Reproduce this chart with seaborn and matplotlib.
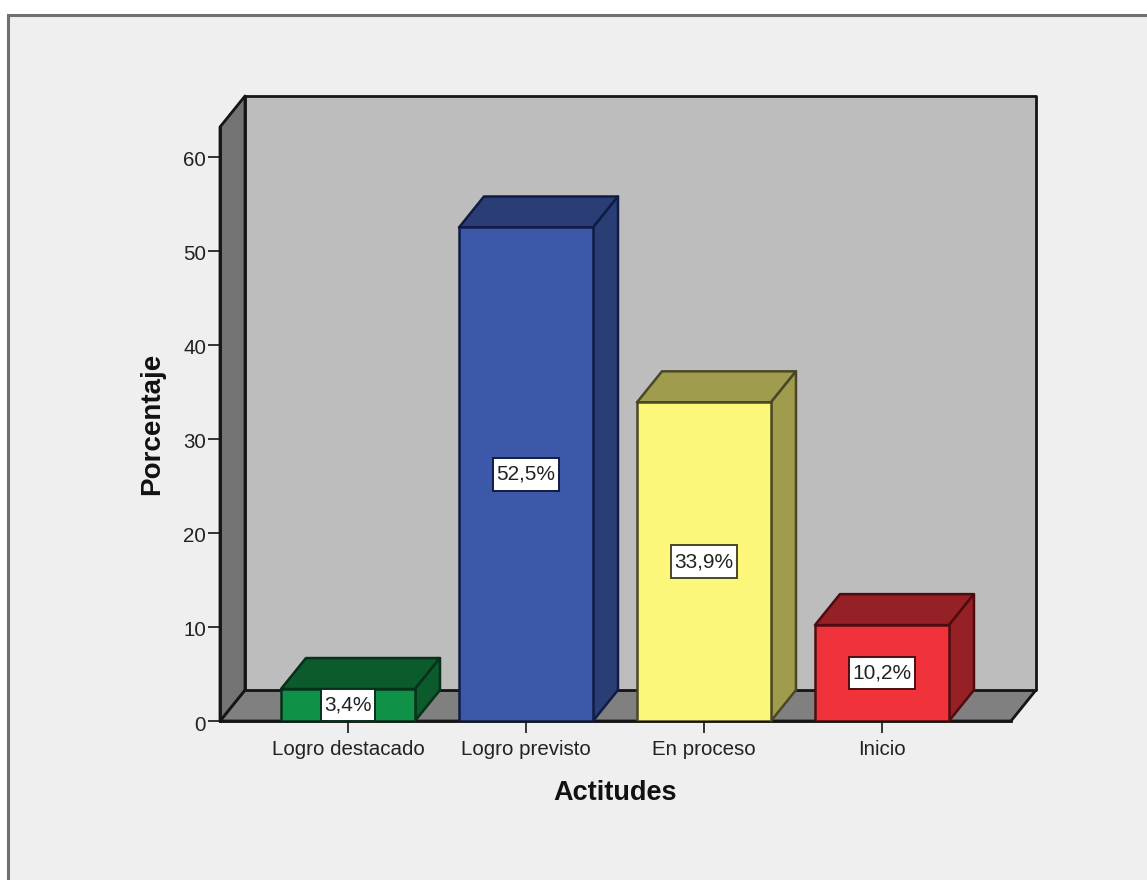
import matplotlib
matplotlib.use("Agg")
import matplotlib.pyplot as plt
from matplotlib.patches import Polygon, Rectangle
from matplotlib.path import Path
from matplotlib.transforms import Affine2D
import pandas as pd
import seaborn as sns

# Survey results: share of students per attitude level
categories = ["Logro destacado", "Logro previsto", "En proceso", "Inicio"]
percentages = [3.4, 52.5, 33.9, 10.2]
front_colors = ["#0F9248", "#3D58A8", "#FCF77A", "#F0323A"]
depth_colors = ["#0B5B2D", "#2A3D75", "#A09C4E", "#952025"]
edge_colors = ["#06301A", "#101C45", "#4A4824", "#4E0C10"]
y_ticks = [0, 10, 20, 30, 40, 50, 60]

W, H, DPI = 1147, 880, 100
DEPTH_X, DEPTH_Y = 25, 31


def label_box(x0, y0, width, height, mutation_size):
    # Rectangle with tight sides and roomier top and bottom padding
    pad_x, pad_y = 0.17 * mutation_size, 0.33 * mutation_size
    x_lo, x_hi = x0 - pad_x, x0 + width + pad_x
    y_lo, y_hi = y0 - pad_y, y0 + height + pad_y
    return Path([(x_lo, y_lo), (x_hi, y_lo), (x_hi, y_hi), (x_lo, y_hi), (x_lo, y_lo)], closed=True)


sns.set_style("white")
plt.rcParams["font.family"] = ["Liberation Sans", "DejaVu Sans"]

fig = plt.figure(figsize=(W / DPI, H / DPI), dpi=DPI, facecolor="white")

# Window-style panel: grey border along the top and left, open to the image edge
fig.add_artist(Rectangle((8 / W, -0.01), 1.02, 1 - 15 / H + 0.01, transform=fig.transFigure,
                         facecolor="#EFEFEF", edgecolor="#707070", linewidth=2.2, zorder=-5))

ax = fig.add_axes([220 / W, (H - 721) / H, (1011 - 220) / W, (721 - 127) / H])
ax.patch.set_visible(False)

df = pd.DataFrame({"Actitudes": categories, "Porcentaje": percentages})
sns.barplot(data=df, x="Actitudes", y="Porcentaje", hue="Actitudes", order=categories,
            hue_order=categories, palette=front_colors, saturation=1, width=0.753,
            legend=False, ax=ax)
ax.set_xlim(-0.719, 3.725)
ax.set_ylim(0, 594 / 9.4)

# Depth vector expressed in axes fractions
dx, dy = DEPTH_X / (1011 - 220), DEPTH_Y / (721 - 127)
wall_style = dict(transform=ax.transAxes, clip_on=False, edgecolor="#151515",
                  linewidth=2.0, joinstyle="round")
ax.add_patch(Polygon([(0, 0), (1, 0), (1 + dx, dy), (dx, dy)], closed=True,
                     facecolor="#808080", zorder=1.1, **wall_style))
ax.add_patch(Polygon([(dx, dy), (1 + dx, dy), (1 + dx, 1 + dy), (dx, 1 + dy)], closed=True,
                     facecolor="#BDBDBD", zorder=1.2, **wall_style))
ax.add_patch(Polygon([(0, 0), (dx, dy), (dx, 1 + dy), (0, 1)], closed=True,
                     facecolor="#737373", zorder=1.3, **wall_style))

# Extrude each bar: top and right faces sit behind its front face
data_px = ax.transData
inv = data_px.inverted()
for container, depth, edge in zip(ax.containers, depth_colors, edge_colors):
    for bar in container:
        x0, x1 = bar.get_x(), bar.get_x() + bar.get_width()
        top = bar.get_height()
        bar.set_edgecolor(edge)
        bar.set_linewidth(1.8)
        bar.set_zorder(3)
        bl = data_px.transform((x1, 0))
        tr = data_px.transform((x1, top))
        tl = data_px.transform((x0, top))
        back_br = inv.transform(bl + (DEPTH_X, DEPTH_Y))
        back_tr = inv.transform(tr + (DEPTH_X, DEPTH_Y))
        back_tl = inv.transform(tl + (DEPTH_X, DEPTH_Y))
        face_style = dict(closed=True, facecolor=depth, edgecolor=edge, linewidth=1.8,
                          clip_on=False, zorder=2.5, joinstyle="round")
        ax.add_patch(Polygon([(x0, top), (x1, top), back_tr, back_tl], **face_style))
        ax.add_patch(Polygon([(x1, 0), (x1, top), back_tr, back_br], **face_style))

    labels = [f"{v:.1f}%".replace(".", ",") for v in container.datavalues]
    for text in ax.bar_label(container, labels=labels, label_type="center", fontsize=15,
                             color="#222222", zorder=4,
                             bbox=dict(boxstyle=label_box, facecolor="white",
                                       edgecolor=edge, linewidth=1.4)):
        text.set_clip_on(False)

sns.despine(ax=ax, top=True, right=True)
for side in ("left", "bottom"):
    ax.spines[side].set_color("#151515")
    ax.spines[side].set_linewidth(2.0)
    ax.spines[side].set_zorder(2)

ax.set_yticks(y_ticks)
ax.tick_params(axis="both", which="major", left=True, bottom=True, length=8.5, width=1.4,
               color="#333333", labelsize=14.8, labelcolor="#222222")
ax.tick_params(axis="y", pad=1.5)
ax.tick_params(axis="x", pad=5.5)
for tick_label in ax.get_yticklabels():
    tick_label.set_transform(tick_label.get_transform() + Affine2D().translate(0, -2))
ax.set_xlabel("Actitudes", fontsize=19.5, fontweight="bold", color="#111111", labelpad=15)
ax.set_ylabel("Porcentaje", fontsize=20, fontweight="bold", color="#111111", labelpad=13)

fig.savefig("out.png", dpi=DPI, facecolor="white")
